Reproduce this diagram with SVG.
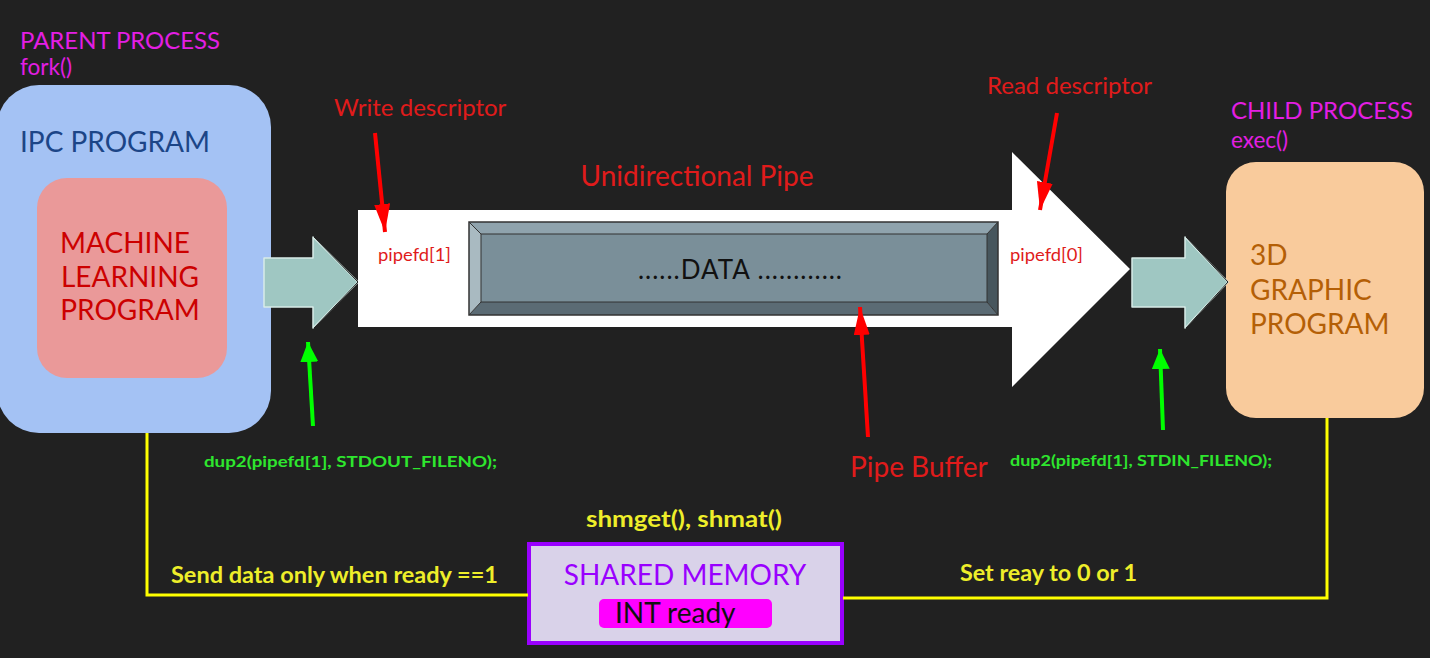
<svg xmlns="http://www.w3.org/2000/svg" width="1430" height="658" viewBox="0 0 1430 658">
<style>
text{font-family:Lato,"Open Sans","Liberation Sans",sans-serif}
.mag{fill:#e31ee3;font-size:22.5px}
.red{fill:#e01b1b}
.grn{fill:#2ee62e;font-size:16px;font-weight:bold}
.yel{fill:#eeee2a;font-size:23px;font-weight:bold}
.tarrow{fill:#9fc7c2;stroke:#d8ece8;stroke-width:1.5;stroke-linejoin:round}
</style>
<defs>
<marker id="rh" viewBox="0 0 14 8" refX="14" refY="4" markerWidth="7" markerHeight="4" orient="auto" markerUnits="strokeWidth"><path d="M0,0 L14,4 L0,8 z" fill="#ff0000"/></marker>
<marker id="gh" viewBox="0 0 10 9" refX="10" refY="4.5" markerWidth="5" markerHeight="4.5" orient="auto" markerUnits="strokeWidth"><path d="M0,0 L10,4.5 L0,9 z" fill="#00ff00"/></marker>
</defs>
<rect x="0" y="0" width="1430" height="658" fill="#212121"/>

<g id="parent">
<text class="mag" x="20" y="49" textLength="200" lengthAdjust="spacingAndGlyphs">PARENT PROCESS</text>
<text class="mag" x="20" y="75">fork()</text>
<rect x="-3" y="85" width="274" height="348" rx="42" fill="#a4c2f4"/>
<text x="20" y="152" font-size="28" fill="#1c4587">IPC PROGRAM</text>
</g>

<g id="ml">
<rect x="37" y="178" width="190" height="200" rx="30" fill="#ea9999"/>
<text x="125" y="253" font-size="28" fill="#cc0000" text-anchor="middle">MACHINE</text>
<text x="130" y="287" font-size="28" fill="#cc0000" text-anchor="middle">LEARNING</text>
<text x="130" y="320" font-size="28" fill="#cc0000" text-anchor="middle">PROGRAM</text>
</g>

<g id="child">
<text class="mag" x="1231" y="119" textLength="182" lengthAdjust="spacingAndGlyphs">CHILD PROCESS</text>
<text class="mag" x="1231" y="148">exec()</text>
<rect x="1226" y="162" width="198" height="256" rx="30" fill="#f9cb9c"/>
<text x="1250" y="265" font-size="28" fill="#b45f06">3D</text>
<text x="1250" y="300" font-size="28" fill="#b45f06">GRAPHIC</text>
<text x="1250" y="334" font-size="28" fill="#b45f06">PROGRAM</text>
</g>

<g id="leftarrow">
<path class="tarrow" d="M264,258 L313,258 L313,237 L358,282 L313,328 L313,307 L264,307 Z"/>
<path d="M314,237 L358,282 L314,328" fill="none" stroke="#222" stroke-width="1"/>
</g>
<g id="rightarrow">
<path class="tarrow" d="M1132,258 L1185,258 L1185,237 L1228,282 L1185,328 L1185,307 L1132,307 Z"/>
<path d="M1186,237 L1228,282 L1186,328" fill="none" stroke="#222" stroke-width="1"/>
</g>

<g id="pipe">
<path d="M358,210 L1012,210 L1012,152 L1130,269 L1012,387 L1012,327 L358,327 Z" fill="#ffffff"/>
<text class="red" x="697" y="186" font-size="28" text-anchor="middle">Unidirectional Pipe</text>
<text class="red" x="378" y="261" font-size="17" textLength="73" lengthAdjust="spacingAndGlyphs">pipefd[1]</text>
<text class="red" x="1010" y="261" font-size="17" textLength="73" lengthAdjust="spacingAndGlyphs">pipefd[0]</text>
</g>

<g id="buffer">
<path d="M469,222 L998,222 L987,234 L481,234 Z" fill="#8fa3ad"/>
<path d="M469,222 L481,234 L481,302 L469,315 Z" fill="#a9bac1"/>
<path d="M469,315 L481,302 L987,302 L998,315 Z" fill="#5b6b74"/>
<path d="M998,222 L998,315 L987,302 L987,234 Z" fill="#47565d"/>
<rect x="481" y="234" width="506" height="68" fill="#7a8f99" stroke="#333" stroke-width="1"/>
<rect x="469" y="222" width="529" height="93" fill="none" stroke="#333" stroke-width="1.5"/>
<path d="M469,222 L481,234 M998,222 L987,234 M469,315 L481,302 M998,315 L987,302" stroke="#333" stroke-width="1"/>
<text x="638" y="279" font-size="26" fill="#111" textLength="204">......DATA ............</text>
</g>

<g id="shm">
<rect x="529" y="544" width="313" height="99" fill="#d9d2e9" stroke="#9900ff" stroke-width="4"/>
<text x="685" y="585" font-size="28" fill="#9900ff" text-anchor="middle">SHARED MEMORY</text>
<rect x="599" y="599" width="173" height="29" rx="5" fill="#ff00ff"/>
<text x="615" y="623" font-size="28" fill="#111">INT ready</text>
</g>

<g id="connectors">
<polyline points="147,433 147,595 528,595" fill="none" stroke="#ffff00" stroke-width="3"/>
<polyline points="1327,418 1327,598 843,598" fill="none" stroke="#ffff00" stroke-width="3"/>
<line x1="375" y1="133" x2="385" y2="232" stroke="#ff0000" stroke-width="4" marker-end="url(#rh)"/>
<line x1="1057" y1="113" x2="1040" y2="210" stroke="#ff0000" stroke-width="4" marker-end="url(#rh)"/>
<line x1="868" y1="437" x2="860" y2="307" stroke="#ff0000" stroke-width="4" marker-end="url(#rh)"/>
<line x1="313" y1="426" x2="308" y2="342" stroke="#00ff00" stroke-width="4" marker-end="url(#gh)"/>
<line x1="1163" y1="430" x2="1160" y2="349" stroke="#00ff00" stroke-width="4" marker-end="url(#gh)"/>
</g>

<g id="labels">
<text class="red" x="334" y="116" font-size="24">Write descriptor</text>
<text class="red" x="987" y="94" font-size="24">Read descriptor</text>
<text class="red" x="850" y="477" font-size="28">Pipe Buffer</text>
<text class="grn" x="204" y="467" textLength="293" lengthAdjust="spacingAndGlyphs">dup2(pipefd[1], STDOUT_FILENO);</text>
<text class="grn" x="1010" y="466" textLength="262" lengthAdjust="spacingAndGlyphs">dup2(pipefd[1], STDIN_FILENO);</text>
<text class="yel" x="586" y="527" textLength="196" lengthAdjust="spacingAndGlyphs">shmget(), shmat()</text>
<text class="yel" x="171" y="583" textLength="327" lengthAdjust="spacingAndGlyphs">Send data only when ready ==1</text>
<text class="yel" x="960" y="581" textLength="177" lengthAdjust="spacingAndGlyphs">Set reay to 0 or 1</text>
</g>
</svg>
